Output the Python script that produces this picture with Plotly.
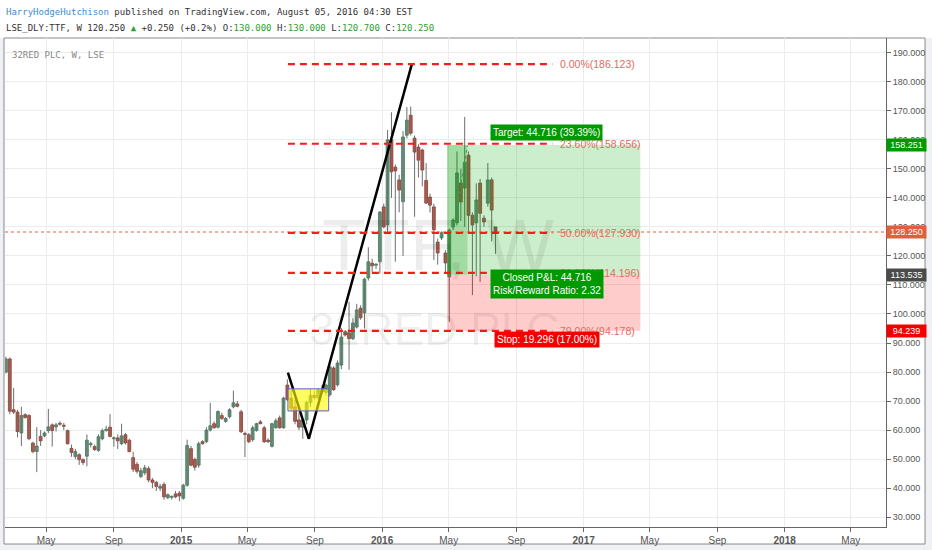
import plotly.graph_objects as go
import pandas as pd

# ---------------- data ----------------
start_week = "2014-02-17"
opens = [80.0, 84.5, 67.0, 66.2, 59.0, 65.3, 65.0, 55.5, 52.6, 57.8,
         58.0, 59.8, 61.8, 61.1, 62.3, 61.5, 59.8, 53.7, 50.9, 51.5,
         49.8, 51.0, 55.0, 54.3, 53.0, 57.0, 59.8, 61.0, 57.0, 57.3,
         55.3, 58.4, 56.5, 50.5, 48.2, 44.0, 45.3, 46.7, 42.8, 42.0,
         40.0, 41.3, 36.7, 36.8, 38.0, 38.3, 36.5, 41.0, 53.6, 49.9,
         47.9, 56.0, 56.0, 60.0, 62.2, 61.0, 65.0, 63.0, 64.6, 68.0,
         69.0, 66.3, 58.8, 58.4, 56.7, 59.8, 62.8, 60.8, 56.5, 54.4,
         60.8, 64.2, 60.8, 75.5, 71.0, 68.0, 63.5, 61.0, 63.5, 69.5,
         72.0, 71.2, 73.8, 73.0, 72.2, 81.4, 75.6, 82.4, 93.9, 93.5,
         91.5, 95.5, 102.0, 100.4, 112.4, 117.5, 116.8, 118.0, 136.9, 130.7,
         160.0, 150.6, 146.2, 138.7, 161.6, 168.5, 160.6, 157.5, 156.5, 146.0,
         140.3, 136.9, 124.8, 126.2, 121.0, 112.8, 130.0, 131.4, 145.1, 143.4,
         154.7, 134.0, 131.4, 145.1, 133.0, 138.2, 146.2, 130.0]
highs = [85.3, 85.0, 74.5, 67.0, 68.0, 65.8, 65.5, 56.0, 61.0, 60.0,
         59.5, 67.3, 62.3, 62.5, 63.0, 62.5, 60.2, 55.0, 53.5, 52.0,
         50.3, 58.5, 56.0, 55.0, 58.5, 60.5, 61.5, 65.5, 57.8, 58.5,
         62.2, 59.0, 57.0, 52.5, 49.0, 47.0, 48.0, 47.5, 43.5, 42.5,
         41.5, 42.0, 38.2, 37.5, 39.0, 39.0, 41.5, 56.7, 54.5, 50.5,
         56.0, 56.5, 61.0, 69.4, 63.0, 66.8, 66.0, 64.5, 67.5, 73.6,
         70.0, 67.0, 59.5, 59.0, 61.5, 62.5, 63.5, 61.5, 57.2, 62.5,
         64.0, 65.0, 71.5, 77.5, 74.0, 70.5, 66.0, 64.0, 70.0, 74.0,
         73.5, 74.5, 75.5, 76.0, 82.5, 82.0, 84.0, 95.2, 94.5, 104.2,
         98.5, 103.5, 103.0, 112.5, 123.0, 119.0, 117.5, 135.5, 138.0, 163.4,
         169.5, 151.5, 148.0, 163.0, 171.3, 171.5, 161.5, 158.5, 157.0, 152.0,
         141.5, 138.0, 126.0, 128.5, 122.0, 129.5, 133.0, 156.0, 150.0, 167.9,
         156.0, 135.0, 145.0, 146.5, 134.0, 152.0, 147.0, 130.0]
lows = [79.5, 65.5, 65.5, 57.5, 54.5, 64.0, 56.5, 52.0, 45.5, 54.5,
        57.5, 59.0, 54.3, 59.5, 61.5, 60.0, 55.0, 50.8, 50.0, 48.0,
        48.0, 47.5, 54.0, 52.8, 52.5, 56.5, 59.5, 57.5, 54.3, 53.5,
        54.8, 55.0, 52.3, 45.5, 45.0, 43.5, 44.5, 42.0, 40.0, 39.0,
        39.0, 36.0, 36.2, 36.0, 36.5, 35.5, 36.0, 40.5, 47.5, 46.0,
        47.0, 55.0, 55.5, 59.5, 60.5, 60.5, 63.5, 62.5, 64.0, 67.5,
        67.8, 59.0, 50.7, 55.5, 56.0, 59.5, 62.0, 55.5, 55.5, 54.0,
        60.5, 60.5, 60.5, 70.0, 66.5, 62.0, 60.0, 57.0, 62.0, 68.0,
        70.5, 70.5, 72.5, 72.0, 71.5, 73.5, 75.0, 81.0, 92.3, 80.8,
        91.0, 95.0, 98.0, 95.0, 111.5, 114.5, 115.5, 114.0, 129.5, 128.0,
        140.0, 118.0, 135.0, 120.0, 160.5, 161.5, 133.5, 147.0, 144.0, 138.0,
        135.0, 118.6, 117.0, 125.5, 114.0, 97.3, 129.0, 130.5, 132.0, 130.0,
        128.0, 106.5, 113.0, 111.0, 130.0, 137.0, 125.0, 120.7]
closes = [84.5, 66.5, 66.2, 59.5, 65.0, 64.3, 57.0, 52.6, 54.5, 56.3,
          59.0, 61.1, 59.8, 61.8, 62.0, 61.3, 55.3, 52.3, 52.6, 49.8,
          48.8, 56.5, 55.2, 53.3, 57.7, 59.8, 60.3, 57.8, 57.2, 56.3,
          58.0, 55.6, 52.6, 46.5, 45.8, 46.0, 47.0, 42.8, 42.0, 40.6,
          40.6, 37.0, 37.7, 37.0, 37.0, 37.3, 41.0, 54.7, 47.9, 47.2,
          55.3, 55.3, 60.0, 61.5, 60.8, 66.4, 64.0, 64.0, 67.0, 69.4,
          68.2, 59.4, 58.5, 56.0, 60.8, 62.2, 62.2, 56.0, 56.0, 62.2,
          63.2, 60.8, 71.0, 70.5, 67.5, 63.0, 61.0, 63.5, 69.5, 72.0,
          71.2, 73.8, 73.2, 75.5, 81.8, 73.9, 83.1, 92.0, 92.8, 91.5,
          96.9, 101.4, 98.7, 112.0, 118.0, 116.6, 117.0, 135.1, 130.0, 160.0,
          149.0, 149.3, 142.7, 161.0, 166.8, 162.3, 155.8, 153.0, 149.6, 138.2,
          137.5, 129.0, 121.0, 128.0, 117.6, 128.9, 132.4, 148.6, 138.6, 152.3,
          134.0, 130.7, 139.3, 134.7, 131.7, 146.2, 135.8, 128.25]
dates = pd.date_range(start_week, periods=len(opens), freq="7D")

x_tick_vals = ["2014-05-01", "2014-09-01", "2015-01-01", "2015-05-01", "2015-09-01",
               "2016-01-01", "2016-05-01", "2016-09-01", "2017-01-01", "2017-05-01",
               "2017-09-01", "2018-01-01", "2018-05-01"]
x_tick_text = ["May", "Sep", "<b>2015</b>", "May", "Sep", "<b>2016</b>", "May", "Sep",
               "<b>2017</b>", "May", "Sep", "<b>2018</b>", "May"]
y_tick_vals = list(range(30, 200, 10))

fib_ratios = ["0.00%", "23.60%", "50.00%", "61.80%", "79.00%"]
fib_prices = [186.123, 158.656, 127.930, 114.196, 94.178]
fib_start, fib_end, fib_label_x = "2015-07-14", "2016-11-05", "2016-11-15"

zigzag_dates = ["2015-07-14", "2015-08-21", "2016-02-24"]
zigzag_prices = [79.8, 57.0, 186.123]

box_dates = ["2015-07-14", "2015-09-26"]
box_prices = [66.6, 74.2]

entry_price, target_price, stop_price = 113.535, 158.251, 94.239
pos_start, pos_closed, pos_end = "2016-04-28", "2016-06-04", "2017-04-14"
trade_path_dates = ["2016-05-09", "2016-06-04"]
trade_path_prices = [129.0, 158.0]
label_x = "2016-10-26"
last_price = 128.25

# ---------------- candles (bodies as bars, wicks as lines) ----------------
wx, wy = [], []
up = {"x": [], "base": [], "h": []}
dn = {"x": [], "base": [], "h": []}
for d, o, h, l, c in zip(dates, opens, highs, lows, closes):
    wx += [d, d, None]
    wy += [l, h, None]
    grp = up if c >= o else dn
    grp["x"].append(d)
    grp["base"].append(min(o, c))
    grp["h"].append(max(abs(c - o), 0.35))

bar_w = 5.2 * 86400000
fig = go.Figure()
fig.add_trace(go.Scatter(x=wx, y=wy, mode="lines", line=dict(color="#6d6d6d", width=1),
                         showlegend=False, hoverinfo="skip"))
fig.add_trace(go.Bar(x=up["x"], y=up["h"], base=up["base"], width=bar_w,
                     marker=dict(color="#6ba583", line=dict(color="#2f6b4b", width=0.7)),
                     showlegend=False, hoverinfo="skip"))
fig.add_trace(go.Bar(x=dn["x"], y=dn["h"], base=dn["base"], width=bar_w,
                     marker=dict(color="#d75442", line=dict(color="#7a2a1f", width=0.7)),
                     showlegend=False, hoverinfo="skip"))

fig.add_trace(go.Scatter(x=zigzag_dates, y=zigzag_prices, mode="lines",
                         line=dict(color="black", width=2.5), showlegend=False, hoverinfo="skip"))
fig.add_trace(go.Scatter(x=trade_path_dates, y=trade_path_prices, mode="lines",
                         line=dict(color="#888", width=1, dash="dot"), showlegend=False, hoverinfo="skip"))

shapes = []
shapes.append(dict(type="rect", xref="paper", yref="paper", x0=-0.02, x1=1.1, y0=1.0, y1=1.1,
                   fillcolor="white", line=dict(width=0), layer="below"))
shapes.append(dict(type="rect", xref="paper", yref="paper", x0=-0.00114, x1=1.0443, y0=-0.0348, y1=1.0,
                   fillcolor="white", line=dict(color="#8a8a8a", width=1), layer="below"))
shapes.append(dict(type="rect", xref="x", yref="y", x0=box_dates[0], x1=box_dates[1],
                   y0=box_prices[0], y1=box_prices[1], fillcolor="rgba(255,250,0,0.62)",
                   line=dict(color="#5a5ae6", width=1), layer="above"))
shapes.append(dict(type="rect", xref="x", yref="y", x0=pos_start, x1=pos_end, y0=entry_price, y1=target_price,
                   fillcolor="rgba(0,170,0,0.2)", line=dict(width=0), layer="above"))
shapes.append(dict(type="rect", xref="x", yref="y", x0=pos_start, x1=pos_closed, y0=entry_price, y1=target_price,
                   fillcolor="rgba(0,150,0,0.2)", line=dict(width=0), layer="above"))
shapes.append(dict(type="rect", xref="x", yref="y", x0=pos_start, x1=pos_end, y0=stop_price, y1=entry_price,
                   fillcolor="rgba(255,0,0,0.2)", line=dict(width=0), layer="above"))
shapes.append(dict(type="line", xref="paper", yref="y", x0=0, x1=1, y0=last_price, y1=last_price,
                   line=dict(color="#e0603c", width=1, dash="dot"), layer="above"))
for p in fib_prices:
    shapes.append(dict(type="line", xref="x", yref="y", x0=fib_start, x1=fib_end, y0=p, y1=p,
                       line=dict(color="#ff1a1a", width=2.2, dash="7px,5px"), layer="above"))

annotations = []
annotations.append(dict(xref="paper", yref="paper", x=-0.001, y=1.0532, xanchor="left", yanchor="middle",
                        showarrow=False, font=dict(family="DejaVu Sans Mono", size=9, color="#333"),
                        text='<span style="color:#3d8bd6">HarryHodgeHutchison</span> published on TradingView.com, August 05, 2016 04:30 EST'))
g = "#2e9e2e"
annotations.append(dict(xref="paper", yref="paper", x=-0.001, y=1.0204, xanchor="left", yanchor="middle",
                        showarrow=False, font=dict(family="DejaVu Sans Mono", size=9, color="#333"),
                        text=(f'LSE_DLY:TTF, W 120.250 <span style="color:{g}">▲</span> +0.250 (+0.2%) '
                              f'O:<span style="color:{g}">130.000</span> H:<span style="color:{g}">130.000</span> '
                              f'L:<span style="color:{g}">120.700</span> C:<span style="color:{g}">120.250</span>')))
annotations.append(dict(xref="paper", yref="paper", x=0.0057, y=0.9652, xanchor="left", yanchor="middle",
                        showarrow=False, font=dict(family="DejaVu Sans Mono", size=9, color="#888"),
                        text="32RED PLC, W, LSE"))
annotations.append(dict(xref="paper", yref="paper", x=0.4915, y=0.5767, showarrow=False,
                        font=dict(family="Liberation Sans", size=72, color="rgba(0,0,0,0.07)"), text="TTF, W"))
annotations.append(dict(xref="paper", yref="paper", x=0.488, y=0.405, showarrow=False,
                        font=dict(family="Liberation Sans", size=46, color="rgba(0,0,0,0.07)"), text="32RED PLC"))
for r, p in zip(fib_ratios, fib_prices):
    annotations.append(dict(xref="x", yref="y", x=fib_label_x, y=p, xanchor="left", yanchor="middle",
                            showarrow=False, font=dict(family="Liberation Sans", size=10.5, color="#e46a5e"),
                            text=f"{r}({p:.3f})"))
annotations.append(dict(xref="x", yref="y", x=label_x, y=target_price, yanchor="bottom", yshift=4,
                        showarrow=False, bgcolor="#009a00", borderpad=2,
                        font=dict(family="Liberation Sans", size=10, color="white"),
                        text="Target: 44.716 (39.39%)"))
annotations.append(dict(xref="x", yref="y", x=label_x, y=entry_price, yanchor="top", yshift=6,
                        showarrow=False, bgcolor="#009a00", borderpad=2,
                        font=dict(family="Liberation Sans", size=10, color="white"),
                        text="Closed P&L: 44.716<br>Risk/Reward Ratio: 2.32"))
annotations.append(dict(xref="x", yref="y", x=label_x, y=stop_price, yanchor="top", yshift=0,
                        showarrow=False, bgcolor="#f40000", borderpad=2,
                        font=dict(family="Liberation Sans", size=10, color="white"),
                        text="Stop: 19.296 (17.00%)"))
for val, col in [(target_price, "#009a00"), (last_price, "#e0603c"), (entry_price, "#4a4a4a"), (stop_price, "#f40000")]:
    annotations.append(dict(xref="paper", yref="y", x=1.0, y=val, xanchor="left", yanchor="middle", xshift=0,
                            showarrow=False, bgcolor=col, borderpad=1, width=37,
                            font=dict(family="Liberation Sans", size=9, color="white"),
                            text=f"{val:.3f}"))

fig.update_layout(
    width=932, height=550,
    margin=dict(l=5, r=46, t=38, b=23),
    paper_bgcolor="#eff1f4", plot_bgcolor="white",
    showlegend=False, barmode="overlay",
    shapes=shapes, annotations=annotations,
    xaxis=dict(type="date", range=["2014-02-15 07:00", "2018-07-04"],
               tickvals=x_tick_vals, ticktext=x_tick_text, showgrid=True, gridcolor="#ececec", gridwidth=1,
               ticks="outside", ticklen=4, tickcolor="#666", showline=True, linecolor="#666", linewidth=1,
               tickfont=dict(family="Liberation Sans", size=10, color="#555"), zeroline=False),
    yaxis=dict(side="right", range=[26.6, 195.1], tickvals=y_tick_vals, tickformat=".3f",
               showgrid=True, gridcolor="#ececec", gridwidth=1, ticks="outside", ticklen=4, tickcolor="#666",
               showline=True, linecolor="#666", linewidth=1, zeroline=False,
               tickfont=dict(family="Liberation Sans", size=9, color="#555")),
)

fig.write_html("out.html", config={"displayModeBar": False, "staticPlot": True},
               post_script="document.body.style.margin='0';")
